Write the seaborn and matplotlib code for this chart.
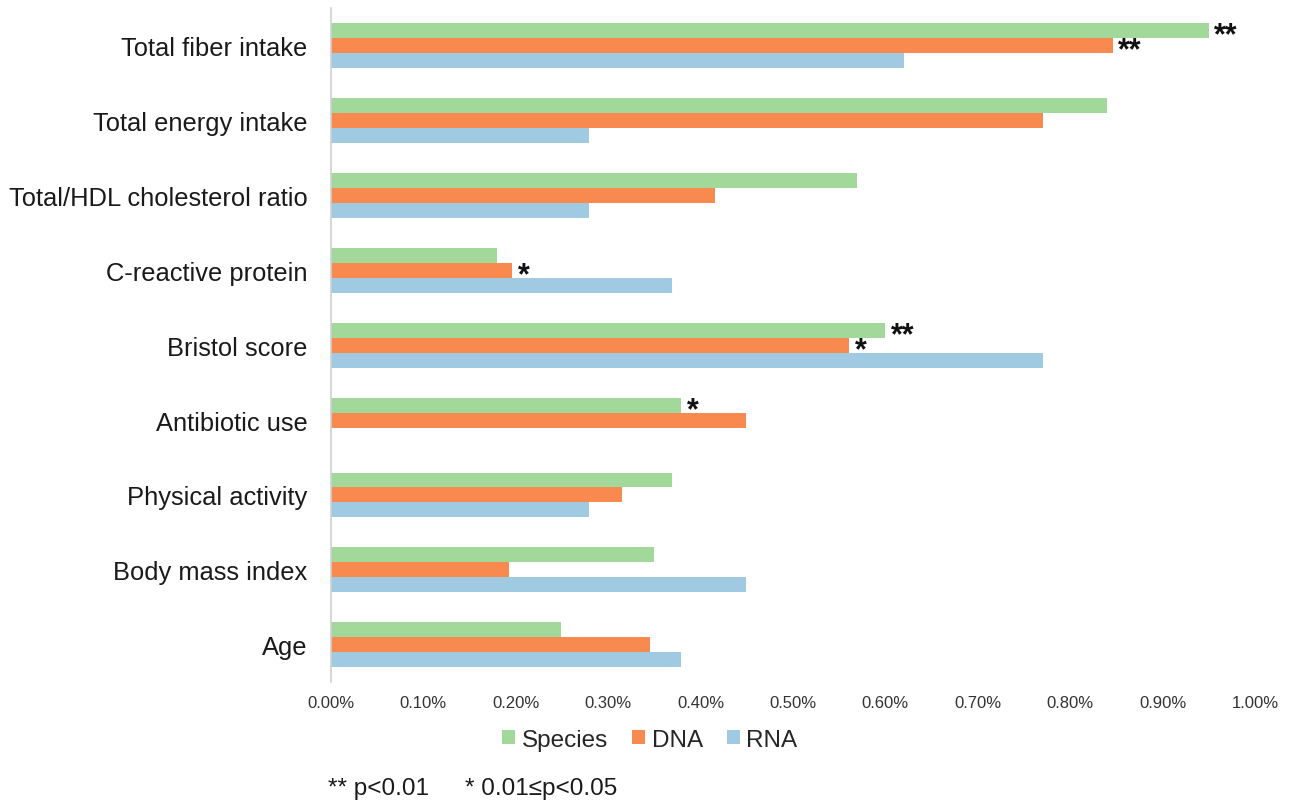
import matplotlib
matplotlib.use("Agg")
import matplotlib.pyplot as plt
import seaborn as sns
import pandas as pd

categories = [
    "Total fiber intake", "Total energy intake", "Total/HDL cholesterol ratio",
    "C-reactive protein", "Bristol score", "Antibiotic use",
    "Physical activity", "Body mass index", "Age",
]
species = [0.950, 0.840, 0.569, 0.180, 0.600, 0.379, 0.369, 0.350, 0.249]
dna = [0.846, 0.771, 0.416, 0.196, 0.561, 0.449, 0.315, 0.193, 0.345]
rna = [0.620, 0.279, 0.279, 0.369, 0.771, 0.0, 0.279, 0.449, 0.379]

# significance marks per series (same order as categories)
sig_species = ["**", "", "", "", "**", "*", "", "", ""]
sig_dna = ["**", "", "", "*", "*", "", "", "", ""]
sig_rna = ["", "", "", "", "", "", "", "", ""]

series = ["Species", "DNA", "RNA"]
colors = ["#a3d89b", "#f8894f", "#9fcae2"]
x_ticks = [0.0, 0.1, 0.2, 0.3, 0.4, 0.5, 0.6, 0.7, 0.8, 0.9, 1.0]

df = pd.DataFrame({
    "variable": categories * 3,
    "series": [s for s in series for _ in categories],
    "value": species + dna + rna,
})

sns.set_theme(style="white")
plt.rcParams["font.family"] = ["Liberation Sans", "DejaVu Sans"]

fig = plt.figure(figsize=(12.93, 8.03), dpi=100)
ax = fig.add_axes([0.256, 0.149, 0.7146, 0.840])

sns.barplot(data=df, y="variable", x="value", hue="series", order=categories,
            hue_order=series, palette=colors, orient="h", width=0.6,
            saturation=1, ax=ax, errorbar=None, legend=True, linewidth=0)

# significance stars just past the end of each bar, centred on the bar
for cont, marks in zip(ax.containers, [sig_species, sig_dna, sig_rna]):
    texts = ax.bar_label(cont, labels=marks, padding=4, fontsize=22,
                         fontweight="bold", color="#111111")
    for t in texts:
        t.set_position((4, -3.5))

ax.set_xlim(0, 1.0)
ax.set_ylim(len(categories) - 0.5, -0.5)
ax.set_xticks(x_ticks)
ax.set_xticklabels([f"{t:.2f}%" for t in x_ticks], fontsize=12, color="#333333")
ax.tick_params(axis="y", labelsize=18.4, colors="#1a1a1a", length=0, pad=17)
ax.tick_params(axis="x", length=0, pad=9)
ax.set_xlabel("")
ax.set_ylabel("")
for side in ["top", "right", "bottom"]:
    ax.spines[side].set_visible(False)
ax.spines["left"].set_color("#d0d0d0")
ax.spines["left"].set_linewidth(1.2)

handles, labels = ax.get_legend_handles_labels()
ax.legend(handles, labels, loc="center", bbox_to_anchor=(0.345, -0.085),
          ncol=3, frameon=False, fontsize=17.5, handlelength=0.55,
          handleheight=0.55, handletextpad=0.25, columnspacing=1.0)

fig.text(0.2537, 0.0174, "** p<0.01", fontsize=17.5, color="#1a1a1a", va="center")
fig.text(0.3596, 0.0174, "* 0.01≤p<0.05", fontsize=17.5, color="#1a1a1a", va="center")

fig.savefig("out.png", dpi=100)
